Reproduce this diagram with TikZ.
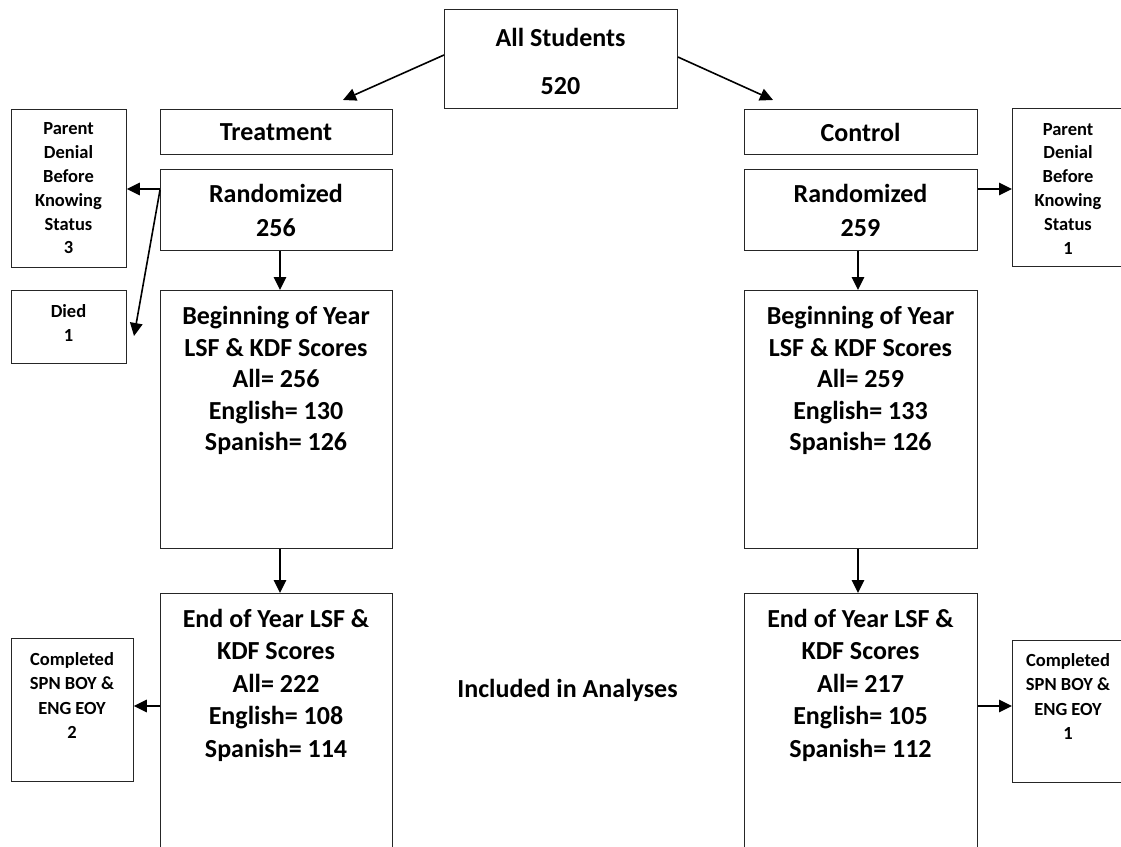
\documentclass[tikz,border=0pt]{standalone}
\usepackage{fontspec}
\setmainfont{Carlito}
\usetikzlibrary{arrows.meta}
\begin{document}
\begin{tikzpicture}[x=1pt,y=-1pt,
  box/.style={draw=black!85, line width=0.9pt, inner sep=0pt, anchor=north west},
  big/.style={font=\bfseries\fontsize{26}{31.5}\selectfont, align=center, inner sep=0pt},
  small/.style={font=\bfseries\fontsize{18.5}{23.8}\selectfont, align=center, inner sep=0pt},
  arr/.style={line width=1.6pt, -{Triangle[length=13pt,width=12.5pt]}}]
\useasboundingbox (0,0) rectangle (1121,846);
\clip (0,0) rectangle (1121,846);
% boxes
\node[box, minimum width=233pt, minimum height=99pt] (all) at (444,9) {};
\node[box, minimum width=232pt, minimum height=45pt] (treat) at (160,109) {};
\node[box, minimum width=233pt, minimum height=45pt] (ctrl) at (744,109) {};
\node[box, minimum width=232pt, minimum height=81pt] (randT) at (160,169) {};
\node[box, minimum width=233pt, minimum height=81pt] (randC) at (744,169) {};
\node[box, minimum width=115pt, minimum height=158pt] (parT) at (11,109) {};
\node[box, minimum width=112pt, minimum height=158pt] (parC) at (1012,108) {};
\node[box, minimum width=115pt, minimum height=73pt] (died) at (11,290) {};
\node[box, minimum width=232pt, minimum height=258pt] (begT) at (160,290) {};
\node[box, minimum width=233pt, minimum height=258pt] (begC) at (744,290) {};
\node[box, minimum width=232pt, minimum height=270pt] (endT) at (160,593) {};
\node[box, minimum width=233pt, minimum height=270pt] (endC) at (744,593) {};
\node[box, minimum width=122pt, minimum height=143pt] (compT) at (11,638) {};
\node[box, minimum width=112pt, minimum height=142pt] (compC) at (1012,640) {};
% texts
\node[big] (allTx) at (560.5,61) {All Students\\[16.5pt]520};
\node[big] (treatTx) at (276,132) {Treatment};
\node[big] (ctrlTx) at (860.5,132) {Control};
\node[big] (randTTx) at (276,210) {Randomized\\[2.5pt]256};
\node[big] (randCTx) at (860.5,210) {Randomized\\[2.5pt]259};
\node[small] (parTTx) at (68.5,188.5) {Parent\\Denial\\Before\\Knowing\\Status\\3};
\node[small] (parCTx) at (1068,188.5) {Parent\\Denial\\Before\\Knowing\\Status\\1};
\node[small] (diedTx) at (68.5,323) {Died\\1};
\node[big] (begTTx) at (276,380.5) {Beginning of Year\\LSF \& KDF Scores\\All= 256\\English= 130\\Spanish= 126};
\node[big] (begCTx) at (860.5,380.5) {Beginning of Year\\LSF \& KDF Scores\\All= 259\\English= 133\\Spanish= 126};
\node[big] (endTTx) at (276,685) {End of Year LSF \&\\[1pt]KDF Scores\\[1pt]All= 222\\[1pt]English= 108\\[1pt]Spanish= 114};
\node[big] (endCTx) at (860.5,685) {End of Year LSF \&\\[1pt]KDF Scores\\[1pt]All= 217\\[1pt]English= 105\\[1pt]Spanish= 112};
\node[small] (compTTx) at (72,695.5) {Completed\\[0.5pt]SPN BOY \&\\[0.5pt]ENG EOY\\[0.5pt]2};
\node[small] (compCTx) at (1068,696.5) {Completed\\[0.5pt]SPN BOY \&\\[0.5pt]ENG EOY\\[0.5pt]1};
\node[big] (incl) at (567.5,690) {Included in Analyses};
% connectors
\coordinate (tA) at (343,100);
\coordinate (cA) at (773,100);
\draw[arr] (all.west |- 0,55) -- (tA);
\draw[arr] (all.east |- 0,57) -- (cA);
\draw[arr] (randT.west |- 0,189) -- (parT.east |- 0,189);
\draw[arr] (randT.west |- 0,190) -- (134,336);
\draw[arr] (randC.east |- 0,189) -- (parC.west |- 0,189);
\draw[arr] (randT.south -| 280,0) -- (begT.north -| 280,0);
\draw[arr] (begT.south -| 280,0) -- (endT.north -| 280,0);
\draw[arr] (randC.south -| 858,0) -- (begC.north -| 858,0);
\draw[arr] (begC.south -| 858,0) -- (endC.north -| 858,0);
\draw[arr] (endT.west |- 0,706) -- (compT.east |- 0,706);
\draw[arr] (endC.east |- 0,706) -- (compC.west |- 0,706);
\end{tikzpicture}
\end{document}
